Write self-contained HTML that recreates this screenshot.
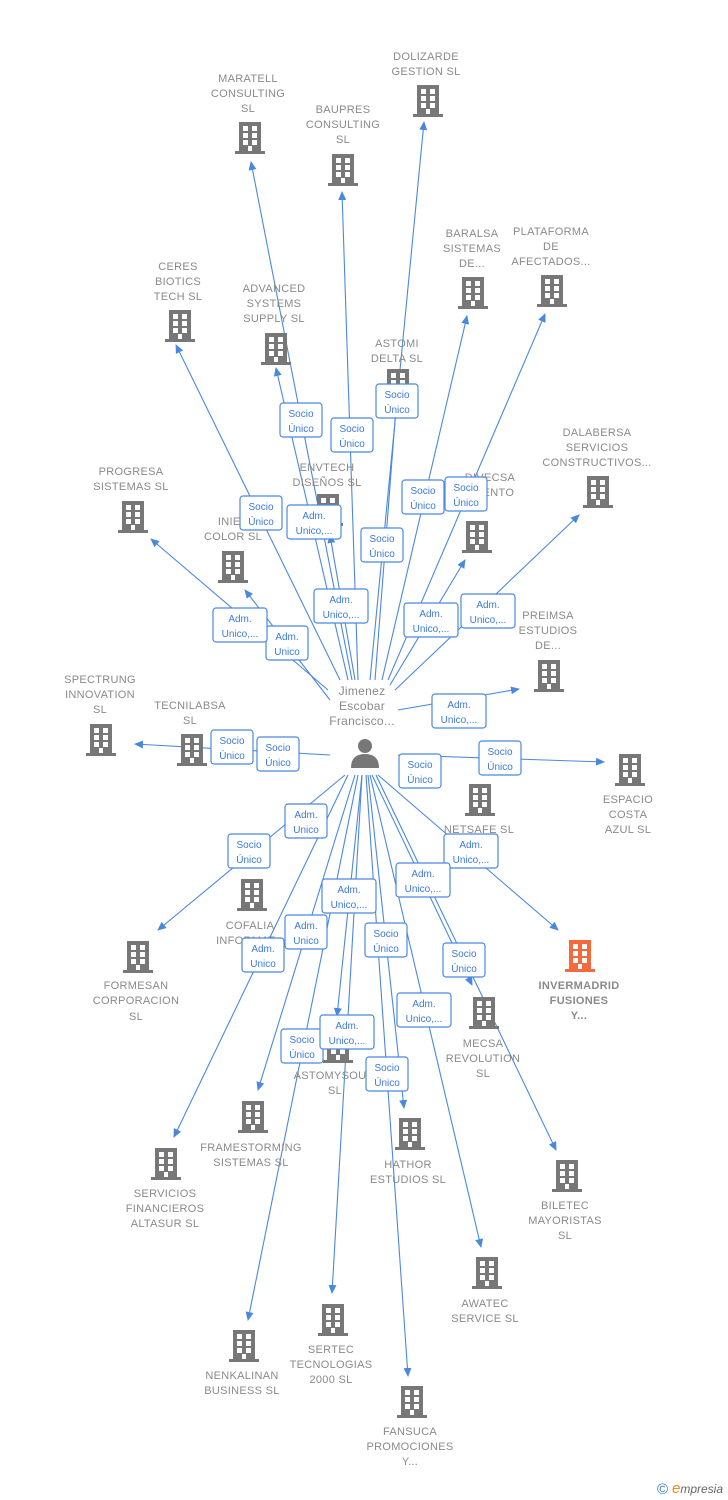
<!DOCTYPE html>
<html><head><meta charset="utf-8"><style>
body{margin:0;background:#fff;}
svg{display:block;font-family:"Liberation Sans",sans-serif;}
.t{font-size:11px;fill:#8a8a8a;text-anchor:middle;letter-spacing:0.3px}
.l line{stroke:#4a88e0;stroke-width:1.1;marker-end:url(#a)}
.b rect.bx{fill:#fff;stroke:#4a88e0;stroke-width:1.2}
.b text{font-size:10px;fill:#3b7ad8;text-anchor:middle}
</style></head><body>
<svg width="728" height="1500" viewBox="0 0 728 1500">
<defs>
<marker id="a" markerWidth="10" markerHeight="10" refX="8" refY="4" orient="auto" markerUnits="userSpaceOnUse"><path d="M0,0 L9,4 L0,8 Z" fill="#4a88e0"/></marker>
<g id="bd"><rect x="-11" y="-16" width="22" height="30" fill="#777"/><rect x="-15" y="13" width="30" height="3" fill="#777"/>
<g fill="#fff"><rect x="-7" y="-12" width="5" height="5"/><rect x="2" y="-12" width="5" height="5"/><rect x="-7" y="-5" width="5" height="5"/><rect x="2" y="-5" width="5" height="5"/><rect x="-7" y="2" width="5" height="5"/><rect x="2" y="2" width="5" height="5"/><rect x="-2" y="8" width="4" height="5"/></g></g>
</defs>
<g class="l">
<line x1="352" y1="680" x2="251" y2="162"/>
<line x1="358" y1="680" x2="342" y2="192"/>
<line x1="370" y1="680" x2="424" y2="122"/>
<line x1="340" y1="680" x2="176" y2="345"/>
<line x1="348" y1="680" x2="276" y2="368"/>
<line x1="375" y1="680" x2="397" y2="395"/>
<line x1="382" y1="680" x2="467" y2="316"/>
<line x1="388" y1="680" x2="545" y2="314"/>
<line x1="395" y1="690" x2="579" y2="515"/>
<line x1="328" y1="690" x2="151" y2="539"/>
<line x1="355" y1="680" x2="330" y2="535"/>
<line x1="330" y1="700" x2="245" y2="590"/>
<line x1="390" y1="685" x2="465" y2="560"/>
<line x1="398" y1="710" x2="519" y2="689"/>
<line x1="330" y1="755" x2="135" y2="744"/>
<line x1="398" y1="755" x2="604" y2="762"/>
<line x1="378" y1="775" x2="558" y2="930"/>
<line x1="345" y1="775" x2="158" y2="930"/>
<line x1="372" y1="775" x2="472" y2="985"/>
<line x1="362" y1="775" x2="337" y2="1016"/>
<line x1="355" y1="775" x2="258" y2="1090"/>
<line x1="348" y1="775" x2="174" y2="1137"/>
<line x1="368" y1="775" x2="404" y2="1108"/>
<line x1="376" y1="775" x2="556" y2="1150"/>
<line x1="370" y1="775" x2="481" y2="1247"/>
<line x1="358" y1="775" x2="248" y2="1320"/>
<line x1="362" y1="775" x2="332" y2="1293"/>
<line x1="366" y1="775" x2="408" y2="1376"/>
</g>
<g>
<use href="#bd" x="250" y="138"/><use href="#bd" x="343" y="170"/><use href="#bd" x="428" y="101"/>
<use href="#bd" x="180" y="326"/><use href="#bd" x="276" y="349"/><use href="#bd" x="398" y="385"/>
<use href="#bd" x="473" y="293"/><use href="#bd" x="552" y="291"/><use href="#bd" x="598" y="492"/>
<use href="#bd" x="133" y="517"/><use href="#bd" x="328" y="510"/><use href="#bd" x="233" y="567"/>
<use href="#bd" x="477" y="537"/><use href="#bd" x="549" y="676"/><use href="#bd" x="101" y="740"/>
<use href="#bd" x="192" y="750"/><use href="#bd" x="630" y="770"/><use href="#bd" x="480" y="800"/>
<use href="#bd" x="138" y="957"/><use href="#bd" x="252" y="895"/><use href="#bd" x="484" y="1013"/>
<use href="#bd" x="338" y="1047"/><use href="#bd" x="253" y="1117"/><use href="#bd" x="166" y="1164"/>
<use href="#bd" x="410" y="1134"/><use href="#bd" x="567" y="1176"/><use href="#bd" x="487" y="1273"/>
<use href="#bd" x="244" y="1346"/><use href="#bd" x="333" y="1320"/><use href="#bd" x="412" y="1402"/>
<g transform="translate(580,956)"><rect x="-11" y="-16" width="22" height="30" fill="#f26a3d"/><rect x="-15" y="13" width="30" height="3" fill="#f26a3d"/>
<g fill="#fff"><rect x="-7" y="-12" width="5" height="5"/><rect x="2" y="-12" width="5" height="5"/><rect x="-7" y="-5" width="5" height="5"/><rect x="2" y="-5" width="5" height="5"/><rect x="-7" y="2" width="5" height="5"/><rect x="2" y="2" width="5" height="5"/><rect x="-2" y="8" width="4" height="5"/></g></g>
</g>
<!-- person -->
<g fill="#777"><circle cx="365" cy="746" r="7"/><path d="M351,768 Q351,754 365,754 Q379,754 379,768 Z"/></g>
<g class="t">
<text x="248" y="82">MARATELL</text><text x="248" y="97">CONSULTING</text><text x="248" y="112">SL</text>
<text x="343" y="113">BAUPRES</text><text x="343" y="128">CONSULTING</text><text x="343" y="143">SL</text>
<text x="426" y="60">DOLIZARDE</text><text x="426" y="75">GESTION  SL</text>
<text x="178" y="270">CERES</text><text x="178" y="285">BIOTICS</text><text x="178" y="300">TECH  SL</text>
<text x="274" y="292">ADVANCED</text><text x="274" y="307">SYSTEMS</text><text x="274" y="322">SUPPLY  SL</text>
<text x="397" y="347">ASTOMI</text><text x="397" y="362">DELTA  SL</text>
<text x="472" y="237">BARALSA</text><text x="472" y="252">SISTEMAS</text><text x="472" y="267">DE...</text>
<text x="551" y="235">PLATAFORMA</text><text x="551" y="250">DE</text><text x="551" y="265">AFECTADOS...</text>
<text x="597" y="436">DALABERSA</text><text x="597" y="451">SERVICIOS</text><text x="597" y="466">CONSTRUCTIVOS...</text>
<text x="131" y="475">PROGRESA</text><text x="131" y="490">SISTEMAS  SL</text>
<text x="327" y="471">ENVTECH</text><text x="327" y="486">DISEÑOS  SL</text>
<text x="233" y="525">INIES</text><text x="233" y="540">COLOR  SL</text>
<text x="490" y="481">DIVECSA</text><text x="492" y="496">MIENTO</text>
<text x="548" y="619">PREIMSA</text><text x="548" y="634">ESTUDIOS</text><text x="548" y="649">DE...</text>
<text x="100" y="683">SPECTRUNG</text><text x="100" y="698">INNOVATION</text><text x="100" y="713">SL</text>
<text x="190" y="709">TECNILABSA</text><text x="190" y="724">SL</text>
<text x="628" y="803">ESPACIO</text><text x="628" y="818">COSTA</text><text x="628" y="833">AZUL  SL</text>
<text x="479" y="833">NETSAFE  SL</text>
<text x="579" y="989" style="font-weight:bold">INVERMADRID</text><text x="579" y="1004" style="font-weight:bold">FUSIONES</text><text x="579" y="1019" style="font-weight:bold">Y...</text>
<text x="136" y="989">FORMESAN</text><text x="136" y="1004">CORPORACION</text><text x="136" y="1020">SL</text>
<text x="250" y="929">COFALIA</text><text x="250" y="944">INFORMAT...</text>
<text x="483" y="1047">MECSA</text><text x="483" y="1062">REVOLUTION</text><text x="483" y="1077">SL</text>
<text x="330" y="1079">ASTOMYSOU</text><text x="335" y="1094">SL</text>
<text x="251" y="1151">FRAMESTORMING</text><text x="251" y="1166">SISTEMAS  SL</text>
<text x="165" y="1197">SERVICIOS</text><text x="165" y="1212">FINANCIEROS</text><text x="165" y="1227">ALTASUR  SL</text>
<text x="408" y="1168">HATHOR</text><text x="408" y="1183">ESTUDIOS  SL</text>
<text x="565" y="1209">BILETEC</text><text x="565" y="1224">MAYORISTAS</text><text x="565" y="1239">SL</text>
<text x="485" y="1307">AWATEC</text><text x="485" y="1322">SERVICE  SL</text>
<text x="242" y="1379">NENKALINAN</text><text x="242" y="1394">BUSINESS  SL</text>
<text x="331" y="1353">SERTEC</text><text x="331" y="1368">TECNOLOGIAS</text><text x="331" y="1383">2000  SL</text>
<text x="410" y="1435">FANSUCA</text><text x="410" y="1450">PROMOCIONES</text><text x="410" y="1465">Y...</text>
<text x="362" y="695" style="font-size:12px">Jimenez</text><text x="362" y="710" style="font-size:12px">Escobar</text><text x="362" y="725" style="font-size:12px">Francisco...</text>
</g>
<g class="b">
<!-- Socio Único boxes: center positions -->
<g transform="translate(301,420)"><rect class="bx" x="-21" y="-17" width="42" height="34" rx="3"/><text y="-3">Socio</text><text y="12">Único</text></g>
<g transform="translate(352,435)"><rect class="bx" x="-21" y="-17" width="42" height="34" rx="3"/><text y="-3">Socio</text><text y="12">Único</text></g>
<g transform="translate(397,401)"><rect class="bx" x="-21" y="-17" width="42" height="34" rx="3"/><text y="-3">Socio</text><text y="12">Único</text></g>
<g transform="translate(423,497)"><rect class="bx" x="-21" y="-17" width="42" height="34" rx="3"/><text y="-3">Socio</text><text y="12">Único</text></g>
<g transform="translate(466,494)"><rect class="bx" x="-21" y="-17" width="42" height="34" rx="3"/><text y="-3">Socio</text><text y="12">Único</text></g>
<g transform="translate(382,545)"><rect class="bx" x="-21" y="-17" width="42" height="34" rx="3"/><text y="-3">Socio</text><text y="12">Único</text></g>
<g transform="translate(261,513)"><rect class="bx" x="-21" y="-17" width="42" height="34" rx="3"/><text y="-3">Socio</text><text y="12">Único</text></g>
<g transform="translate(232,747)"><rect class="bx" x="-21" y="-17" width="42" height="34" rx="3"/><text y="-3">Socio</text><text y="12">Único</text></g>
<g transform="translate(278,754)"><rect class="bx" x="-21" y="-17" width="42" height="34" rx="3"/><text y="-3">Socio</text><text y="12">Único</text></g>
<g transform="translate(420,771)"><rect class="bx" x="-21" y="-17" width="42" height="34" rx="3"/><text y="-3">Socio</text><text y="12">Único</text></g>
<g transform="translate(500,758)"><rect class="bx" x="-21" y="-17" width="42" height="34" rx="3"/><text y="-3">Socio</text><text y="12">Único</text></g>
<g transform="translate(306,821)"><rect class="bx" x="-21" y="-17" width="42" height="34" rx="3"/><text y="-3">Adm.</text><text y="12">Unico</text></g>
<g transform="translate(249,851)"><rect class="bx" x="-21" y="-17" width="42" height="34" rx="3"/><text y="-3">Socio</text><text y="12">Único</text></g>
<g transform="translate(386,940)"><rect class="bx" x="-21" y="-17" width="42" height="34" rx="3"/><text y="-3">Socio</text><text y="12">Único</text></g>
<g transform="translate(464,960)"><rect class="bx" x="-21" y="-17" width="42" height="34" rx="3"/><text y="-3">Socio</text><text y="12">Único</text></g>
<g transform="translate(302,1046)"><rect class="bx" x="-21" y="-17" width="42" height="34" rx="3"/><text y="-3">Socio</text><text y="12">Único</text></g>
<g transform="translate(387,1074)"><rect class="bx" x="-21" y="-17" width="42" height="34" rx="3"/><text y="-3">Socio</text><text y="12">Único</text></g>
<g transform="translate(287,643)"><rect class="bx" x="-21" y="-17" width="42" height="34" rx="3"/><text y="-3">Adm.</text><text y="12">Unico</text></g>
<g transform="translate(306,932)"><rect class="bx" x="-21" y="-17" width="42" height="34" rx="3"/><text y="-3">Adm.</text><text y="12">Unico</text></g>
<g transform="translate(263,955)"><rect class="bx" x="-21" y="-17" width="42" height="34" rx="3"/><text y="-3">Adm.</text><text y="12">Unico</text></g>
<!-- Adm. Unico,... -->
<g transform="translate(314,522)"><rect class="bx" x="-27" y="-17" width="54" height="34" rx="3"/><text y="-3">Adm.</text><text y="12">Unico,...</text></g>
<g transform="translate(341,606)"><rect class="bx" x="-27" y="-17" width="54" height="34" rx="3"/><text y="-3">Adm.</text><text y="12">Unico,...</text></g>
<g transform="translate(240,625)"><rect class="bx" x="-27" y="-17" width="54" height="34" rx="3"/><text y="-3">Adm.</text><text y="12">Unico,...</text></g>
<g transform="translate(431,620)"><rect class="bx" x="-27" y="-17" width="54" height="34" rx="3"/><text y="-3">Adm.</text><text y="12">Unico,...</text></g>
<g transform="translate(488,611)"><rect class="bx" x="-27" y="-17" width="54" height="34" rx="3"/><text y="-3">Adm.</text><text y="12">Unico,...</text></g>
<g transform="translate(459,711)"><rect class="bx" x="-27" y="-17" width="54" height="34" rx="3"/><text y="-3">Adm.</text><text y="12">Unico,...</text></g>
<g transform="translate(471,851)"><rect class="bx" x="-27" y="-17" width="54" height="34" rx="3"/><text y="-3">Adm.</text><text y="12">Unico,...</text></g>
<g transform="translate(423,880)"><rect class="bx" x="-27" y="-17" width="54" height="34" rx="3"/><text y="-3">Adm.</text><text y="12">Unico,...</text></g>
<g transform="translate(349,896)"><rect class="bx" x="-27" y="-17" width="54" height="34" rx="3"/><text y="-3">Adm.</text><text y="12">Unico,...</text></g>
<g transform="translate(424,1010)"><rect class="bx" x="-27" y="-17" width="54" height="34" rx="3"/><text y="-3">Adm.</text><text y="12">Unico,...</text></g>
<g transform="translate(347,1032)"><rect class="bx" x="-27" y="-17" width="54" height="34" rx="3"/><text y="-3">Adm.</text><text y="12">Unico,...</text></g>
</g>
<text x="657" y="1494" style="font-size:15px;fill:#2a7ac0">©</text>
<text x="672" y="1493" style="font-size:12px;fill:#666;font-style:italic"><tspan style="fill:#f08a1c;font-size:15px">e</tspan>mpresia</text>
</svg>
</body></html>
